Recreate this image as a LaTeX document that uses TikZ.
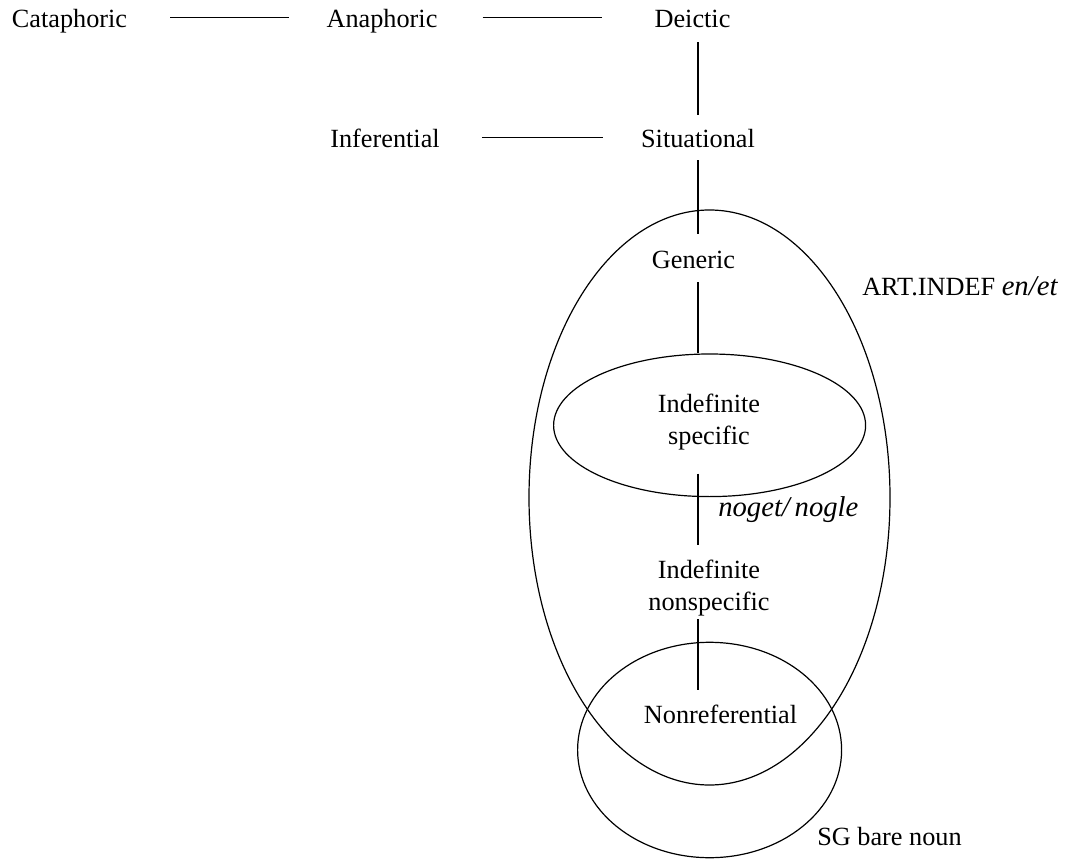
\documentclass[tikz,border=0pt]{standalone}
\usepackage{fontspec}
\setmainfont{Liberation Serif}
\usepackage{amsmath}

\begin{document}
\begin{tikzpicture}[x=0.75pt,y=-0.75pt,
	every node/.style={inner sep=0pt,font=\fontsize{19.7pt}{24pt}\selectfont},
	word/.style={text height=15.75pt,text depth=0pt,anchor=base},
	twoline/.style={align=center,anchor=center},
	note/.style={anchor=base west},
	link/.style={line width=1.1pt},
	set/.style={line width=0.9pt}]
\useasboundingbox (0,0) rectangle (1074,859);
\def\spine{698}
\def\it#1{{\fontsize{21.5pt}{24pt}\selectfont\itshape #1}}
\coordinate (spine) at (\spine,0);

%vertices
\node[word] (cataphoric) at (69.5,28) {Cataphoric};
\node[word] (anaphoric) at (382,28) {Anaphoric};
\node[word] (deictic) at (692.5,28) {Deictic};
\node[word] (inferential) at (385,148) {Inferential};
\node[word] (situational) at (698,148) {Situational};
\node[word] (generic) at (693.5,268) {Generic};
\node[twoline] (specific) at (709,422) {Indefinite\\specific};
\node[twoline] (nonspecific) at (709,588.5) {Indefinite\\nonspecific};
\node[word] (nonref) at (720.5,723) {Nonreferential};

%sets
\draw[set] (709.5,497.5) ellipse [x radius=180.5,y radius=287.5];
\draw[set] (709.6,425.3) ellipse [x radius=156,y radius=71.3];
\draw[set] (709.6,750) ellipse [x radius=132,y radius=107.7];
\node[note] (artindef) at (862,296) {ART.INDEF \it{en/et}};
\node[note] (noget) at (718,516) {\it{noget/\,nogle}};
\node[note] (bare) at (817,845) {SG bare noun};

%edges
%horizontal
\draw[link,shorten <=32.25pt,shorten >=27.75pt] (cataphoric.east) -- (anaphoric.west);
\draw[link,shorten <=33.75pt,shorten >=39pt] (anaphoric.east) -- (deictic.west);
\draw[link,shorten <=31.5pt,shorten >=28.5pt] (inferential.east) -- (situational.west);

%vertical
\draw[link,shorten <=10.5pt,shorten >=9pt] (deictic.south -| spine) -- (situational.north -| spine);
\draw[link,shorten <=9pt,shorten >=9.75pt] (situational.south -| spine) -- (generic.north -| spine);
\draw[link,shorten <=10.5pt,shorten >=30.75pt] (generic.south -| spine) -- (specific.north -| spine);
\draw[link,shorten <=17.5pt,shorten >=11.25pt] (specific.south -| spine) -- (nonspecific.north -| spine);
\draw[link,shorten <=1.7pt,shorten >=9pt] (nonspecific.south -| spine) -- (nonref.north -| spine);
\end{tikzpicture}
\end{document}
